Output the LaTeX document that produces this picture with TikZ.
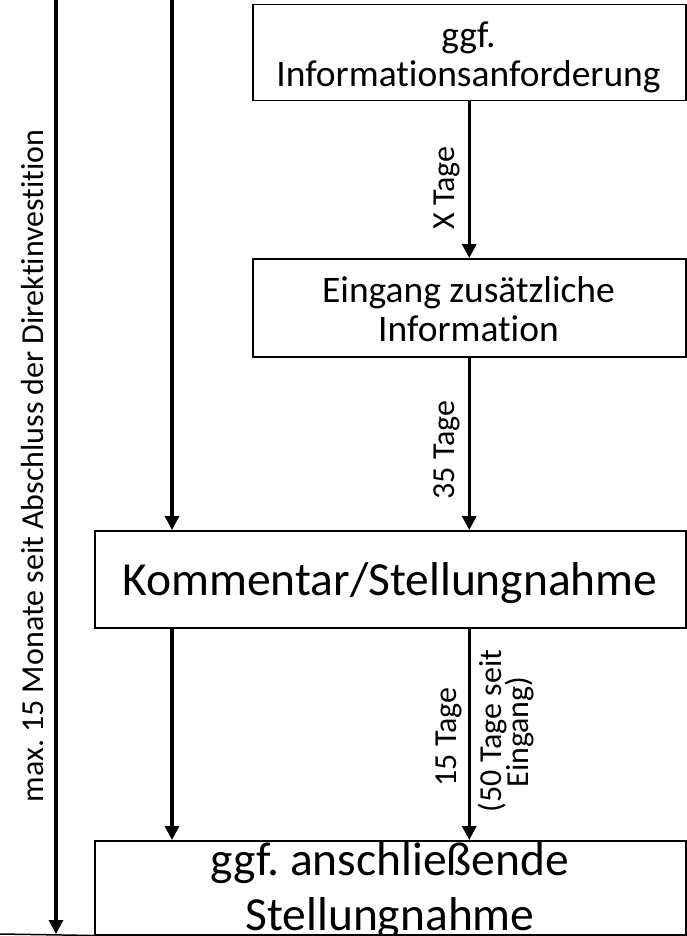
\documentclass[tikz,border=0pt]{standalone}
\usepackage{fontspec}
\setmainfont{Carlito}[Ligatures={NoCommon,NoContextual}]
\usetikzlibrary{arrows.meta}
\frenchspacing
\begin{document}
\begin{tikzpicture}[x=1pt,y=-1pt,
  boxstyle/.style={draw=black,line width=1.5pt,fill=white,inner sep=0pt,anchor=north west},
  flow/.style={line width=3.2pt,-{Triangle[width=14pt,length=14pt]}},
  thinline/.style={line width=1.5pt},
  midtxt/.style={inner sep=0pt,anchor=base,font=\fontsize{37.5}{40}\selectfont},
  bigtxt/.style={inner sep=0pt,anchor=base,font=\fontsize{47.5}{55}\selectfont},
  lbl/.style={rotate=90,inner sep=0pt,anchor=base,font=\fontsize{32}{32}\selectfont}]
\useasboundingbox (0,0) rectangle (686,936);
% boxes
\node[boxstyle,minimum width=433pt,minimum height=96pt] (b1) at (252,4) {};
\node[boxstyle,minimum width=433pt,minimum height=98pt] (b2) at (252,258) {};
\node[boxstyle,minimum width=591pt,minimum height=97pt] (b3) at (94,530) {};
\node[boxstyle,minimum width=591pt,minimum height=94pt] (b4) at (94,840) {};
% box texts
\node[midtxt] (t1a) at (468.5,48) {ggf.};
\node[midtxt] (t1b) at (468.5,87) {Informationsanforderung};
\node[midtxt] (t2a) at (468.5,302) {Eingang zusätzliche};
\node[midtxt] (t2b) at (468.5,341) {Information};
\node[bigtxt] (t3) at (390,595) {Kommentar/Stellungnahme};
\node[bigtxt] (t4a) at (390,875) {ggf. anschließende};
\node[bigtxt] (t4b) at (390,930) {Stellungnahme};
% free ends
\coordinate (top1) at (56,-5);
\coordinate (top2) at (172,-5);
\coordinate (bl) at (0,934);
% connectors
\draw[flow] (top1) -- (top1 |- bl);
\draw[thinline] (bl) -- (b4.south west);
\draw[flow] (top2) -- (top2 |- b3.north);
\draw[flow] (b1.south) -- (b2.north);
\draw[flow] (b2.south) -- (b2.south |- b3.north);
\draw[flow] (b3.south -| top2) -- (b4.north -| top2);
\draw[flow] (b3.south -| b2.south) -- (b4.north -| b2.south);
% labels
\node[lbl] (l0) at (43,466) {max. 15 Monate seit Abschluss der Direktinvestition};
\node[lbl] (l1) at (454,188) {X Tage};
\node[lbl] (l2) at (454,450) {35 Tage};
\node[lbl] (l3) at (456,737) {15 Tage};
\node[lbl] (l4a) at (501,731) {(50 Tage seit};
\node[lbl] (l4b) at (528,732) {Eingang)};
\end{tikzpicture}
\end{document}
